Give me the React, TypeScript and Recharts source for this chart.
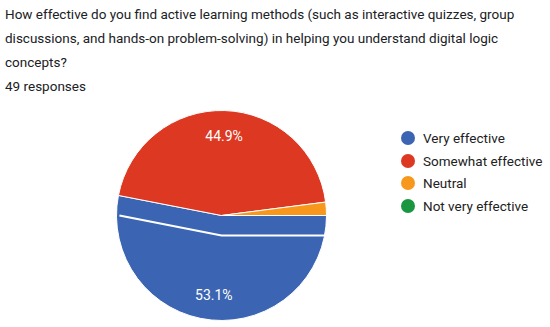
import { PieChart, Pie, Cell, Legend } from 'recharts';

const QUESTION =
    'How effective do you find active learning methods (such as interactive quizzes, group discussions, and hands-on problem-solving) in helping you understand digital logic concepts?';
const RESPONSES_LABEL = '49 responses';

const categories = ['Very effective', 'Somewhat effective', 'Neutral', 'Not very effective'];
const counts = [26, 22, 1, 0];
const colors = ['#3b65b2', '#dd3822', '#f7981d', '#1a9640'];

const data = categories.map((name, i) => ({ name, value: counts[i] }));

const RADIAN = Math.PI / 180;
const SLICE_SHIFT = 20;

function polar(cx: number, cy: number, r: number, angle: number) {
    return { x: cx + Math.cos(-angle * RADIAN) * r, y: cy + Math.sin(-angle * RADIAN) * r };
}

// percent labels inside the big slices, plus the white edge of the shifted blue slice
function renderLabel(props: any) {
    const { cx, cy, midAngle, outerRadius, percent, index, endAngle } = props;
    if (percent < 0.05) return null;
    const p = polar(cx, cy, outerRadius * 0.76, midAngle);
    const text = (
        <text
            x={p.x}
            y={p.y}
            fill="#fff"
            textAnchor="middle"
            dominantBaseline="central"
            fontSize={14}
            fontFamily="Roboto, Arial, sans-serif"
        >
            {(percent * 100).toFixed(1)}%
        </text>
    );
    if (index !== 0) return <g key={`l-${index}`}>{text}</g>;
    const a = polar(cx, cy, outerRadius, endAngle);
    const rightX = cx + Math.sqrt(outerRadius * outerRadius - SLICE_SHIFT * SLICE_SHIFT);
    const pts = `${a.x + 1},${a.y + SLICE_SHIFT} ${cx},${cy + SLICE_SHIFT} ${rightX},${cy + SLICE_SHIFT}`;
    return (
        <g key={`l-${index}`}>
            <polyline points={pts} fill="none" stroke="#fff" strokeWidth={2} />
            {text}
        </g>
    );
}

// legend keeps the data order (recharts would sort it by name)
function renderLegend() {
    return (
        <div style={{ fontFamily: 'Roboto, Arial, sans-serif', fontSize: 13.5, color: '#222', whiteSpace: 'nowrap' }}>
            {categories.map((name, i) => (
                <div key={name} style={{ display: 'flex', alignItems: 'center', height: 22.5 }}>
                    <span
                        style={{
                            width: 14,
                            height: 14,
                            borderRadius: '50%',
                            background: colors[i],
                            display: 'inline-block',
                            flexShrink: 0,
                            marginRight: 8,
                        }}
                    />
                    <span>{name}</span>
                </div>
            ))}
        </div>
    );
}

export default function App() {
    return (
        <div style={{ position: 'fixed', left: 0, top: 0, width: 550, height: 327, background: '#fff', overflow: 'hidden' }}>
            <div
                style={{
                    position: 'absolute',
                    left: 5,
                    top: 1.5,
                    width: 540,
                    fontFamily: 'Roboto, Arial, sans-serif',
                    fontSize: 13.5,
                    lineHeight: '24.3px',
                    color: '#202124',
                }}
            >
                <div>{QUESTION}</div>
                <div>{RESPONSES_LABEL}</div>
            </div>
            <PieChart
                width={550}
                height={327}
                margin={{ top: 0, right: 0, bottom: 0, left: 0 }}
                style={{ position: 'absolute', left: 0, top: 0 }}
            >
                <Pie
                    data={data}
                    dataKey="value"
                    nameKey="name"
                    cx={221.5}
                    cy={215.5}
                    outerRadius={105}
                    startAngle={0}
                    endAngle={-360}
                    stroke="#fff"
                    strokeWidth={1}
                    label={renderLabel}
                    labelLine={false}
                    isAnimationActive={false}
                >
                    {data.map((d, i) => (
                        <Cell key={d.name} fill={colors[i]} />
                    ))}
                </Pie>
                <Legend
                    layout="vertical"
                    align="right"
                    verticalAlign="top"
                    content={renderLegend}
                    wrapperStyle={{ left: 401, top: 127, width: 149 }}
                />
            </PieChart>
        </div>
    );
}
